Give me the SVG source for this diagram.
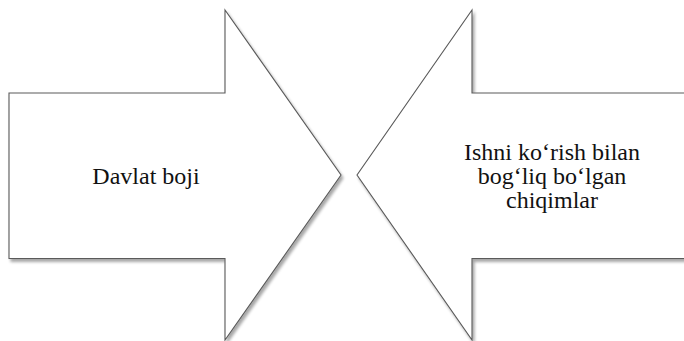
<svg xmlns="http://www.w3.org/2000/svg" width="684" height="341" viewBox="0 0 684 341">
<defs>
<style>
.arrow{fill:#ffffff;stroke:#5a5a5a;stroke-width:1.1;stroke-linejoin:miter;filter:url(#sh)}
text{font-family:'Liberation Serif','DejaVu Serif',serif;font-size:24px;fill:#111;text-anchor:middle}
</style>
<filter id="sh" x="-10%" y="-10%" width="120%" height="120%">
<feGaussianBlur in="SourceAlpha" stdDeviation="1.5"/>
<feOffset dx="1.5" dy="2.5" result="b"/>
<feComponentTransfer><feFuncA type="linear" slope="0.35"/></feComponentTransfer>
<feMerge><feMergeNode/><feMergeNode in="SourceGraphic"/></feMerge>
</filter>
</defs>
<rect width="684" height="341" fill="#ffffff"/>
<g id="left-arrow">
<polygon class="arrow" points="9,93 225,93 225,10 341,175 225,340 225,258.5 9,258.5"/>
<text x="146" y="184" font-family="Liberation Serif, serif">Davlat boji</text>
</g>
<g id="right-arrow">
<polygon class="arrow" points="690,93 472,93 472,10 357,175 472,340 472,258.5 690,258.5"/>
<text x="552" y="160" font-family="Liberation Serif, serif">Ishni ko‘rish bilan</text>
<text x="552" y="184" font-family="Liberation Serif, serif">bog‘liq bo‘lgan</text>
<text x="552" y="207.5" font-family="Liberation Serif, serif">chiqimlar</text>
</g>
<g id="connectors"/>
</svg>
